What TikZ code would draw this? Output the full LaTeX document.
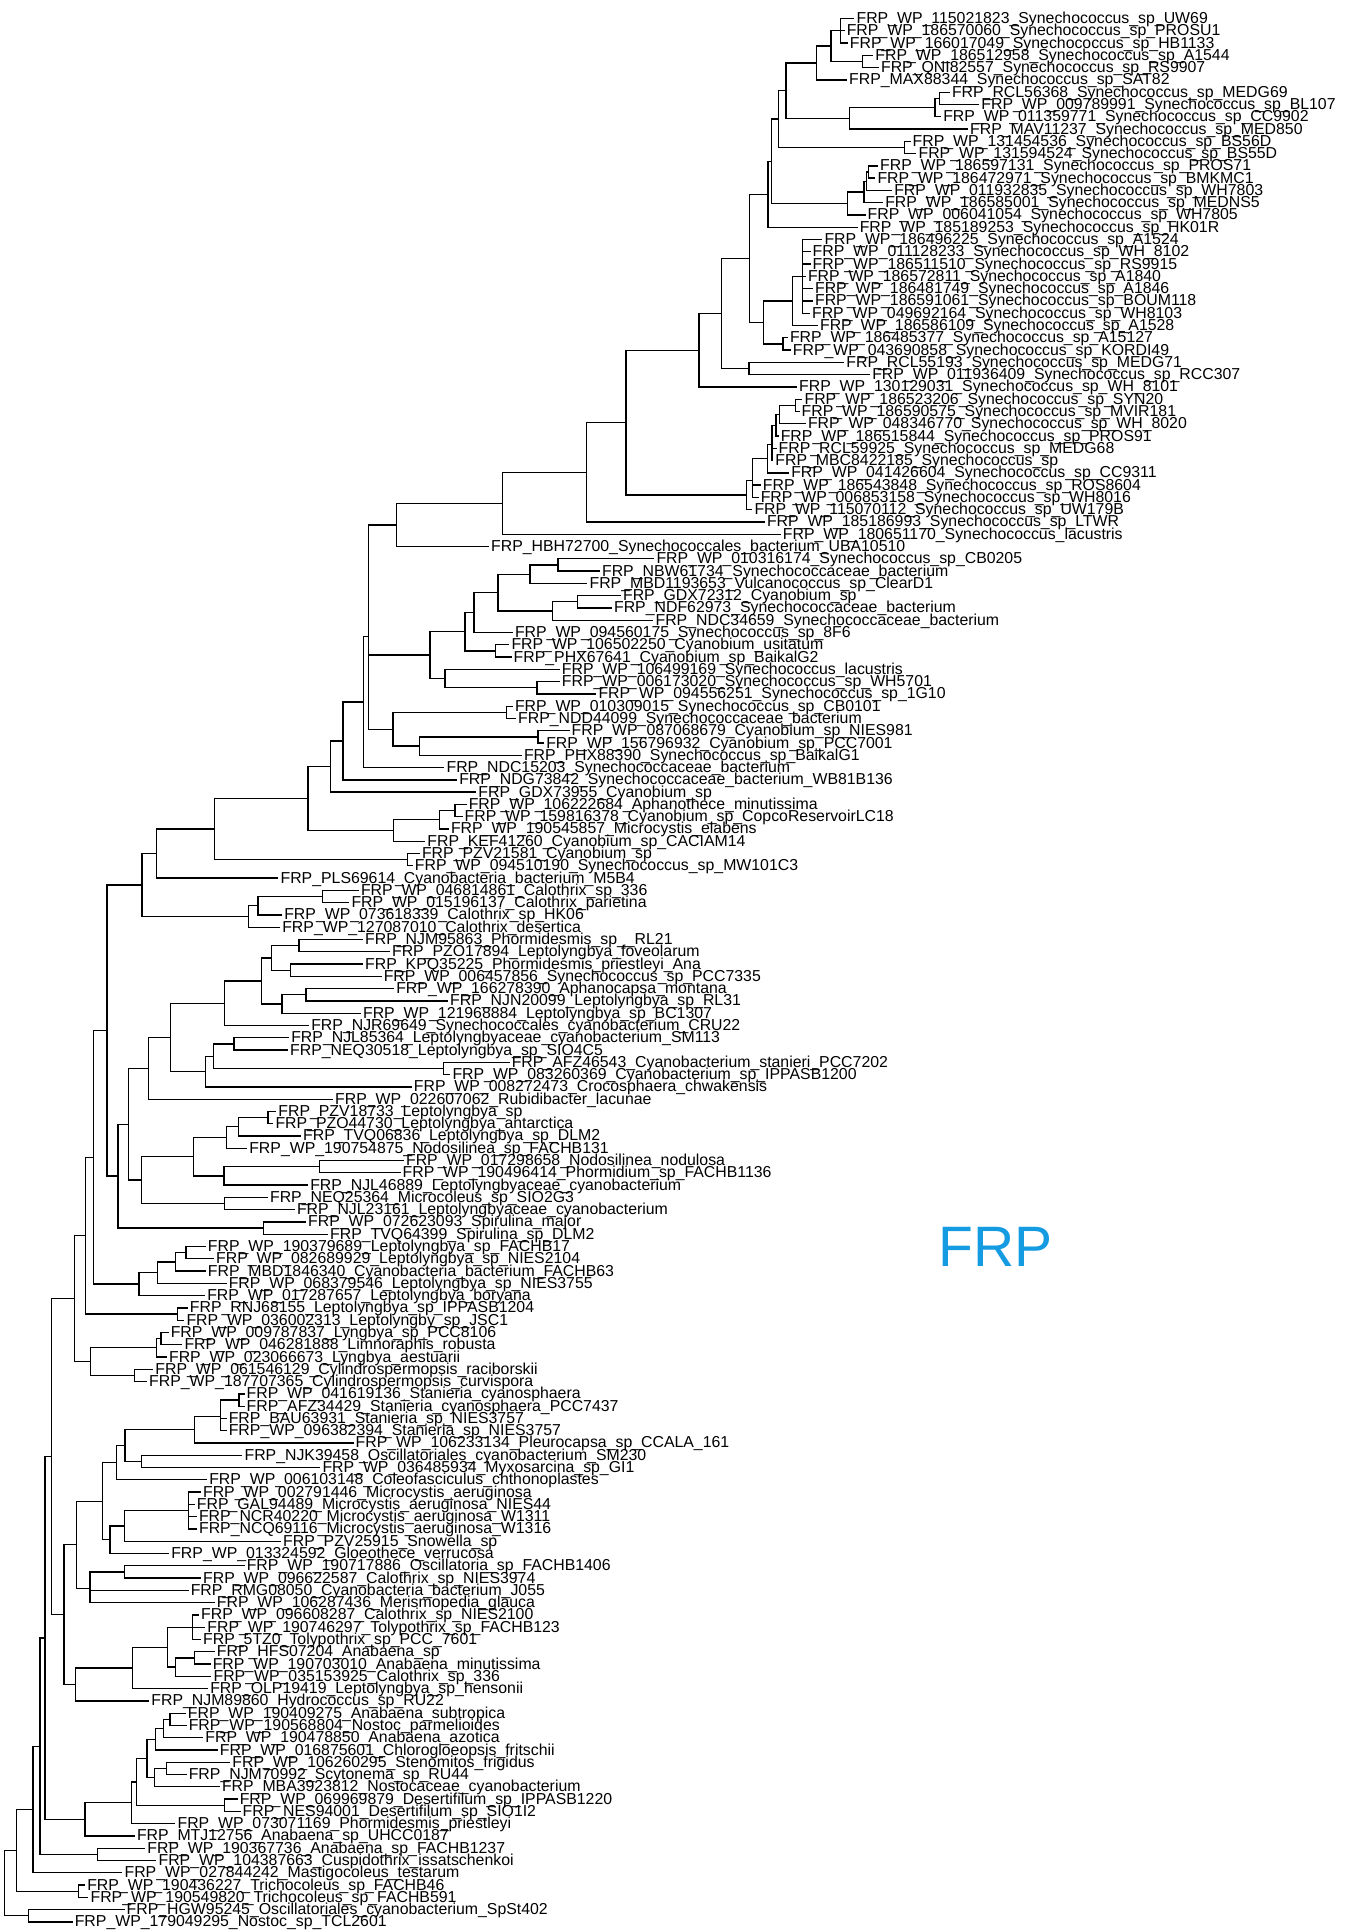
\documentclass[tikz,border=0pt]{standalone}
\usepackage{fontspec}
\setmainfont{Liberation Sans}
\definecolor{frpblue}{RGB}{20,155,225}
\newcommand\lblfont{\fontsize{15.85}{16}\selectfont}
\newdimen\inodesum
\newdimen\inodetmp
\newcount\inodecnt
\newcommand\leaf[3]{%
  \pgfmathsetmacro\yy{18.5+(#1-1)*12.28}%
  \pgfmathsetmacro\tx{#2-2}%
  \coordinate (t#1) at (\tx,\yy);
  \node[lbl] (l#1) at (#2,\yy+5) {\detokenize{#3}};
}
\newcommand\inode[3]{%
  \global\inodesum=0pt\global\inodecnt=0
  \foreach \ch in {#3}{%
    \pgfextracty{\inodetmp}{\pgfpointanchor{\ch}{center}}%
    \global\advance\inodesum by \inodetmp
    \global\advance\inodecnt by 1
  }%
  \global\divide\inodesum by \inodecnt
  \coordinate (#1) at (#2pt,\the\inodesum);
  \foreach \ch in {#3}{\draw[br] (#1) |- (\ch);}%
}
\begin{document}
\begin{tikzpicture}[x=1pt,y=-1pt,
  lbl/.style={anchor=base west,inner sep=0pt,font=\lblfont,text=black},
  br/.style={line width=1.3pt,draw=black,line join=miter}]
\fill[white] (0,0) rectangle (1355,1932);
\useasboundingbox (0,0) rectangle (1355,1932);
\leaf{1}{856.4}{FRP_WP_115021823_Synechococcus_sp_UW69}
\leaf{2}{846.6}{FRP_WP_186570060_Synechococcus_sp_PROSU1}
\leaf{3}{849.7}{FRP_WP_166017049_Synechococcus_sp_HB1133}
\leaf{4}{875.2}{FRP_WP_186512958_Synechococcus_sp_A1544}
\leaf{5}{880.9}{FRP_QNI82557_Synechococcus_sp_RS9907}
\leaf{6}{849.0}{FRP_MAX88344_Synechococcus_sp_SAT82}
\leaf{7}{951.8}{FRP_RCL56368_Synechococcus_sp_MEDG69}
\leaf{8}{981.2}{FRP_WP_009789991_Synechococcus_sp_BL107}
\leaf{9}{943.1}{FRP_WP_011359771_Synechococcus_sp_CC9902}
\leaf{10}{970.0}{FRP_MAV11237_Synechococcus_sp_MED850}
\leaf{11}{912.5}{FRP_WP_131454536_Synechococcus_sp_BS56D}
\leaf{12}{918.4}{FRP_WP_131594524_Synechococcus_sp_BS55D}
\leaf{13}{880.0}{FRP_WP_186597131_Synechococcus_sp_PROS71}
\leaf{14}{877.3}{FRP_WP_186472971_Synechococcus_sp_BMKMC1}
\leaf{15}{894.1}{FRP_WP_011932835_Synechococcus_sp_WH7803}
\leaf{16}{885.1}{FRP_WP_186585001_Synechococcus_sp_MEDNS5}
\leaf{17}{867.5}{FRP_WP_006041054_Synechococcus_sp_WH7805}
\leaf{18}{859.6}{FRP_WP_185189253_Synechococcus_sp_HK01R}
\leaf{19}{824.3}{FRP_WP_186496225_Synechococcus_sp_A1524}
\leaf{20}{812.5}{FRP_WP_011128233_Synechococcus_sp_WH_8102}
\leaf{21}{812.5}{FRP_WP_186511510_Synechococcus_sp_RS9915}
\leaf{22}{807.8}{FRP_WP_186572811_Synechococcus_sp_A1840}
\leaf{23}{814.9}{FRP_WP_186481749_Synechococcus_sp_A1846}
\leaf{24}{814.9}{FRP_WP_186591061_Synechococcus_sp_BOUM118}
\leaf{25}{811.9}{FRP_WP_049692164_Synechococcus_sp_WH8103}
\leaf{26}{819.9}{FRP_WP_186586109_Synechococcus_sp_A1528}
\leaf{27}{789.8}{FRP_WP_186485377_Synechococcus_sp_A15127}
\leaf{28}{792.7}{FRP_WP_043690858_Synechococcus_sp_KORDI49}
\leaf{29}{846.2}{FRP_RCL55193_Synechococcus_sp_MEDG71}
\leaf{30}{872.1}{FRP_WP_011936409_Synechococcus_sp_RCC307}
\leaf{31}{799.0}{FRP_WP_130129031_Synechococcus_sp_WH_8101}
\leaf{32}{804.4}{FRP_WP_186523206_Synechococcus_sp_SYN20}
\leaf{33}{801.5}{FRP_WP_186590575_Synechococcus_sp_MVIR181}
\leaf{34}{807.8}{FRP_WP_048346770_Synechococcus_sp_WH_8020}
\leaf{35}{780.6}{FRP_WP_186515844_Synechococcus_sp_PROS91}
\leaf{36}{778.5}{FRP_RCL59925_Synechococcus_sp_MEDG68}
\leaf{37}{775.2}{FRP_MBC8422185_Synechococcus_sp}
\leaf{38}{791.1}{FRP_WP_041426604_Synechococcus_sp_CC9311}
\leaf{39}{762.7}{FRP_WP_186543848_Synechococcus_sp_ROS8604}
\leaf{40}{760.6}{FRP_WP_006853158_Synechococcus_sp_WH8016}
\leaf{41}{754.3}{FRP_WP_115070112_Synechococcus_sp_UW179B}
\leaf{42}{766.8}{FRP_WP_185186993_Synechococcus_sp_LTWR}
\leaf{43}{782.7}{FRP_WP_180651170_Synechococcus_lacustris}
\leaf{44}{491.0}{FRP_HBH72700_Synechococcales_bacterium_UBA10510}
\leaf{45}{656.3}{FRP_WP_010316174_Synechococcus_sp_CB0205}
\leaf{46}{601.9}{FRP_NBW61734_Synechococcaceae_bacterium}
\leaf{47}{589.4}{FRP_MBD1193653_Vulcanococcus_sp_ClearD1}
\leaf{48}{622.9}{FRP_GDX72312_Cyanobium_sp}
\leaf{49}{613.9}{FRP_NDF62973_Synechococcaceae_bacterium}
\leaf{50}{655.4}{FRP_NDC34659_Synechococcaceae_bacterium}
\leaf{51}{514.8}{FRP_WP_094560175_Synechococcus_sp_8F6}
\leaf{52}{511.3}{FRP_WP_106502250_Cyanobium_usitatum}
\leaf{53}{513.5}{FRP_PHX67641_Cyanobium_sp_BaikalG2}
\leaf{54}{561.7}{FRP_WP_106499169_Synechococcus_lacustris}
\leaf{55}{561.7}{FRP_WP_006173020_Synechococcus_sp_WH5701}
\leaf{56}{598.3}{FRP_WP_094556251_Synechococcus_sp_1G10}
\leaf{57}{514.8}{FRP_WP_010309015_Synechococcus_sp_CB0101}
\leaf{58}{518.0}{FRP_NDD44099_Synechococcaceae_bacterium}
\leaf{59}{571.5}{FRP_WP_087068679_Cyanobium_sp_NIES981}
\leaf{60}{546.1}{FRP_WP_156796932_Cyanobium_sp_PCC7001}
\leaf{61}{523.8}{FRP_PHX88390_Synechococcus_sp_BaikalG1}
\leaf{62}{446.4}{FRP_NDC15203_Synechococcaceae_bacterium}
\leaf{63}{459.1}{FRP_NDG73842_Synechococcaceae_bacterium_WB81B136}
\leaf{64}{478.2}{FRP_GDX73955_Cyanobium_sp}
\leaf{65}{468.6}{FRP_WP_106222684_Aphanothece_minutissima}
\leaf{66}{464.5}{FRP_WP_159816378_Cyanobium_sp_CopcoReservoirLC18}
\leaf{67}{450.8}{FRP_WP_190545857_Microcystis_elabens}
\leaf{68}{427.2}{FRP_KEF41260_Cyanobium_sp_CACIAM14}
\leaf{69}{421.8}{FRP_PZV21581_Cyanobium_sp}
\leaf{70}{414.7}{FRP_WP_094510190_Synechococcus_sp_MW101C3}
\leaf{71}{280.4}{FRP_PLS69614_Cyanobacteria_bacterium_M5B4}
\leaf{72}{360.8}{FRP_WP_046814861_Calothrix_sp_336}
\leaf{73}{351.3}{FRP_WP_015196137_Calothrix_parietina}
\leaf{74}{284.1}{FRP_WP_073618339_Calothrix_sp_HK06}
\leaf{75}{282.1}{FRP_WP_127087010_Calothrix_desertica}
\leaf{76}{365.0}{FRP_NJM95863_Phormidesmis_sp__RL21}
\leaf{77}{391.9}{FRP_PZO17894_Leptolyngbya_foveolarum}
\leaf{78}{365.0}{FRP_KPQ35225_Phormidesmis_priestleyi_Ana}
\leaf{79}{383.6}{FRP_WP_006457856_Synechococcus_sp_PCC7335}
\leaf{80}{396.1}{FRP_WP_166278390_Aphanocapsa_montana}
\leaf{81}{450.0}{FRP_NJN20099_Leptolyngbya_sp_RL31}
\leaf{82}{362.9}{FRP_WP_121968884_Leptolyngbya_sp_BC1307}
\leaf{83}{311.1}{FRP_NJR69649_Synechococcales_cyanobacterium_CRU22}
\leaf{84}{291.1}{FRP_NJL85364_Leptolyngbyaceae_cyanobacterium_SM113}
\leaf{85}{290.0}{FRP_NEQ30518_Leptolyngbya_sp_SIO4C5}
\leaf{86}{511.6}{FRP_AFZ46543_Cyanobacterium_stanieri_PCC7202}
\leaf{87}{452.3}{FRP_WP_083260369_Cyanobacterium_sp_IPPASB1200}
\leaf{88}{413.7}{FRP_WP_008272473_Crocosphaera_chwakensis}
\leaf{89}{335.0}{FRP_WP_022607062_Rubidibacter_lacunae}
\leaf{90}{278.2}{FRP_PZV18733_Leptolyngbya_sp}
\leaf{91}{275.3}{FRP_PZO44730_Leptolyngbya_antarctica}
\leaf{92}{303.0}{FRP_TVQ06836_Leptolyngbya_sp_DLM2}
\leaf{93}{249.1}{FRP_WP_190754875_Nodosilinea_sp_FACHB131}
\leaf{94}{405.9}{FRP_WP_017298658_Nodosilinea_nodulosa}
\leaf{95}{402.5}{FRP_WP_190496414_Phormidium_sp_FACHB1136}
\leaf{96}{310.1}{FRP_NJL46889_Leptolyngbyaceae_cyanobacterium}
\leaf{97}{269.9}{FRP_NEQ25364_Microcoleus_sp_SIO2G3}
\leaf{98}{296.8}{FRP_NJL23161_Leptolyngbyaceae_cyanobacterium}
\leaf{99}{308.0}{FRP_WP_072623093_Spirulina_major}
\leaf{100}{330.0}{FRP_TVQ64399_Spirulina_sp_DLM2}
\leaf{101}{207.7}{FRP_WP_190379689_Leptolyngbya_sp_FACHB17}
\leaf{102}{216.0}{FRP_WP_082689929_Leptolyngbya_sp_NIES2104}
\leaf{103}{207.7}{FRP_MBD1846340_Cyanobacteria_bacterium_FACHB63}
\leaf{104}{228.6}{FRP_WP_068379546_Leptolyngbya_sp_NIES3755}
\leaf{105}{207.1}{FRP_WP_017287657_Leptolyngbya_boryana}
\leaf{106}{189.7}{FRP_RNJ68155_Leptolyngbya_sp_IPPASB1204}
\leaf{107}{186.3}{FRP_WP_036002313_Leptolyngby_sp_JSC1}
\leaf{108}{170.6}{FRP_WP_009787837_Lyngbya_sp_PCC8106}
\leaf{109}{184.3}{FRP_WP_046281888_Limnoraphis_robusta}
\leaf{110}{168.9}{FRP_WP_023066673_Lyngbya_aestuarii}
\leaf{111}{155.2}{FRP_WP_061546129_Cylindrospermopsis_raciborskii}
\leaf{112}{149.0}{FRP_WP_187707365_Cylindrospermopsis_curvispora}
\leaf{113}{246.5}{FRP_WP_041619136_Stanieria_cyanosphaera}
\leaf{114}{246.5}{FRP_AFZ34429_Stanieria_cyanosphaera_PCC7437}
\leaf{115}{228.6}{FRP_BAU63931_Stanieria_sp_NIES3757}
\leaf{116}{228.6}{FRP_WP_096382394_Stanieria_sp_NIES3757}
\leaf{117}{355.5}{FRP_WP_106233134_Pleurocapsa_sp_CCALA_161}
\leaf{118}{244.4}{FRP_NJK39458_Oscillatoriales_cyanobacterium_SM230}
\leaf{119}{322.3}{FRP_WP_036485934_Myxosarcina_sp_GI1}
\leaf{120}{209.1}{FRP_WP_006103148_Coleofasciculus_chthonoplastes}
\leaf{121}{202.9}{FRP_WP_002791446_Microcystis_aeruginosa}
\leaf{122}{196.7}{FRP_GAL94489_Microcystis_aeruginosa_NIES44}
\leaf{123}{198.8}{FRP_NCR40220_Microcystis_aeruginosa_W1311}
\leaf{124}{198.9}{FRP_NCQ69116_Microcystis_aeruginosa_W1316}
\leaf{125}{283.0}{FRP_PZV25915_Snowella_sp}
\leaf{126}{171.1}{FRP_WP_013324592_Gloeothece_verrucosa}
\leaf{127}{246.6}{FRP_WP_190717886_Oscillatoria_sp_FACHB1406}
\leaf{128}{203.0}{FRP_WP_096622587_Calothrix_sp_NIES3974}
\leaf{129}{190.6}{FRP_RMG08050_Cyanobacteria_bacterium_J055}
\leaf{130}{216.7}{FRP_WP_106287436_Merismopedia_glauca}
\leaf{131}{201.0}{FRP_WP_096608287_Calothrix_sp_NIES2100}
\leaf{132}{207.2}{FRP_WP_190746297_Tolypothrix_sp_FACHB123}
\leaf{133}{203.0}{FRP_5TZ0_Tolypothrix_sp_PCC_7601}
\leaf{134}{216.7}{FRP_HFS07204_Anabaena_sp}
\leaf{135}{212.6}{FRP_WP_190703010_Anabaena_minutissima}
\leaf{136}{213.4}{FRP_WP_035153925_Calothrix_sp_336}
\leaf{137}{210.1}{FRP_OLP19419_Leptolyngbya_sp_hensonii}
\leaf{138}{151.2}{FRP_NJM89860_Hydrococcus_sp_RU22}
\leaf{139}{187.7}{FRP_WP_190409275_Anabaena_subtropica}
\leaf{140}{188.6}{FRP_WP_190568804_Nostoc_parmelioides}
\leaf{141}{205.2}{FRP_WP_190478850_Anabaena_azotica}
\leaf{142}{219.7}{FRP_WP_016875601_Chlorogloeopsis_fritschii}
\leaf{143}{232.2}{FRP_WP_106260295_Stenomitos_frigidus}
\leaf{144}{188.6}{FRP_NJM70992_Scytonema_sp_RU44}
\leaf{145}{221.8}{FRP_MBA3923812_Nostocaceae_cyanobacterium}
\leaf{146}{239.6}{FRP_WP_069969879_Desertifilum_sp_IPPASB1220}
\leaf{147}{242.5}{FRP_NES94001_Desertifilum_sp_SIO1I2}
\leaf{148}{177.4}{FRP_WP_073071169_Phormidesmis_priestleyi}
\leaf{149}{136.8}{FRP_MTJ12756_Anabaena_sp_UHCC0187}
\leaf{150}{147.2}{FRP_WP_190367736_Anabaena_sp_FACHB1237}
\leaf{151}{158.4}{FRP_WP_104387663_Cuspidothrix_issatschenkoi}
\leaf{152}{124.4}{FRP_WP_027844242_Mastigocoleus_testarum}
\leaf{153}{87.1}{FRP_WP_190436227_Trichocoleus_sp_FACHB46}
\leaf{154}{90.4}{FRP_WP_190549820_Trichocoleus_sp_FACHB591}
\leaf{155}{126.5}{FRP_HGW95245_Oscillatoriales_cyanobacterium_SpSt402}
\leaf{156}{74.6}{FRP_WP_179049295_Nostoc_sp_TCL2601}
% internal nodes (post-order)
\inode{A}{840.7}{t1,t2,t3}
\inode{B}{862.3}{t4,t5}
\inode{AB}{831.1}{A,B}
\inode{AB6}{816.3}{AB,t6}
\inode{N78}{939.2}{t7,t8}
\inode{N789}{934.9}{N78,t9}
\inode{C}{849.8}{N789,t10}
\inode{P1}{786.0}{AB6,C}
\inode{D}{904.7}{t11,t12}
\inode{P2}{778.4}{P1,D}
\inode{N1314}{868.2}{t13,t14}
\inode{N1315}{866.3}{N1314,t15}
\inode{N1316}{863.9}{N1315,t16}
\inode{E}{847.8}{N1316,t17}
\inode{P3}{771.4}{P2,E}
\inode{P4}{767.9}{P3,t18}
\inode{G1}{802.3}{t19,t20,t21,t22,t23,t24,t25}
\inode{G}{792.8}{G1,t26}
\inode{H}{783.0}{t27,t28}
\inode{F}{763.5}{G,H}
\inode{P5}{749.3}{P4,F}
\inode{N2930}{749.0}{t29,t30}
\inode{P6}{721.4}{P5,N2930}
\inode{P7}{698.9}{P6,t31}
\inode{N3233}{795.2}{t32,t33}
\inode{S1}{779.4}{N3233,t34}
\inode{S2}{776.0}{S1,t35}
\inode{S3}{772.0}{S2,t36,t37}
\inode{S4}{767.7}{S3,t38}
\inode{S6}{752.5}{S4,t39,t40}
\inode{S7}{746.6}{S6,t41}
\inode{P8}{626.1}{P7,S7}
\inode{P9}{586.4}{P8,t42}
\inode{P10}{502.5}{P9,t43}
\inode{P11}{396.4}{P10,t44}
\inode{N4546}{558.1}{t45,t46}
\inode{N4547}{530.0}{N4546,t47}
\inode{N4849}{577.3}{t48,t49}
\inode{N4850}{552.3}{N4849,t50}
\inode{T1}{497.9}{N4547,N4850}
\inode{c1}{474.0}{T1,t51}
\inode{N5253}{495.6}{t52,t53}
\inode{c2}{465.0}{c1,N5253}
\inode{N5556}{537.1}{t55,t56}
\inode{c3}{445.0}{t54,N5556}
\inode{c4}{430.0}{c2,c3}
\inode{N5758}{506.8}{t57,t58}
\inode{N5960}{538.0}{t59,t60}
\inode{N5961}{419.6}{N5960,t61}
\inode{c5}{392.9}{N5758,N5961}
\inode{P12}{368.3}{P11,c4,c5}
\inode{n363}{363.6}{P12,t62}
\inode{n343}{342.9}{n363,t63}
\inode{n330}{330.4}{n343,t64}
\inode{N6566}{455.0}{t65,t66}
\inode{N6567}{439.6}{N6566,t67}
\inode{U1}{393.2}{N6567,t68}
\inode{n308}{307.9}{n330,U1}
\inode{N6970}{407.4}{t69,t70}
\inode{n214}{214.3}{n308,N6970}
\inode{n156}{156.4}{n214,t71}
\inode{N7273}{322.6}{t72,t73}
\inode{N7274}{257.9}{N7273,t74}
\inode{Cal}{248.2}{N7274,t75}
\inode{n142}{142.1}{n156,Cal}
\inode{N7677}{299.0}{t76,t77}
\inode{N7879}{290.8}{t78,t79}
\inode{N7679}{271.4}{N7677,N7879}
\inode{N8081}{306.0}{t80,t81}
\inode{N8082}{282.0}{N8081,t82}
\inode{Q}{261.4}{N7679,N8082}
\inode{n224}{224.3}{Q,t83}
\inode{N8485}{233.9}{t84,t85}
\inode{N8687}{443.8}{t86,t87}
\inode{n214b}{213.6}{N8485,N8687}
\inode{n205}{205.4}{n214b,t88}
\inode{R}{170.7}{n224,n205}
\inode{n148}{148.2}{R,t89}
\inode{N9091}{267.9}{t90,t91}
\inode{N9092}{238.7}{N9091,t92}
\inode{N9093}{226.5}{N9092,t93}
\inode{N9495}{319.3}{t94,t95}
\inode{N9496}{224.1}{N9495,t96}
\inode{n193}{193.4}{N9093,N9496}
\inode{N9798}{224.3}{t97,t98}
\inode{n141}{141.8}{n193,N9798}
\inode{n128}{128.6}{n148,n141}
\inode{N99100}{263.6}{t99,t100}
\inode{n118}{117.9}{n128,N99100}
\inode{n107}{107.1}{n142,n118}
\inode{N101102}{186.0}{t101,t102}
\inode{N101103}{175.8}{N101102,t103}
\inode{N101104}{157.2}{N101103,t104}
\inode{N101105}{139.0}{N101104,t105}
\inode{n93}{93.6}{n107,N101105}
\inode{N106107}{177.3}{t106,t107}
\inode{n85b}{85.7}{n93,N106107}
\inode{N108109}{161.0}{t108,t109}
\inode{N108110}{156.5}{N108109,t110}
\inode{N111112}{134.7}{t111,t112}
\inode{n90b}{90.8}{N108110,N111112}
\inode{n74}{74.3}{n85b,n90b}
\inode{N113114}{239.1}{t113,t114}
\inode{Stan}{220.7}{N113114,t115,t116}
\inode{N113117}{194.5}{Stan,t117}
\inode{N118119}{141.2}{t118,t119}
\inode{n125}{125.0}{N113117,N118119}
\inode{n116}{116.7}{n125,t120}
\inode{Mic}{188.8}{t121,t122,t123,t124}
\inode{N125m}{124.2}{Mic,t125}
\inode{n110}{109.9}{N125m,t126}
\inode{n103}{102.7}{n116,n110}
\inode{N127128}{124.2}{t127,t128}
\inode{poly90}{89.9}{N127128,t129,t130}
\inode{n76}{76.5}{n103,poly90}
\inode{Toly}{192.7}{t131,t132,t133}
\inode{N134135}{194.7}{t134,t135}
\inode{N134136}{175.3}{N134135,t136}
\inode{N131136}{167.8}{Toly,N134136}
\inode{N131137}{132.6}{N131136,t137}
\inode{n75}{75.8}{N131137,t138}
\inode{n64}{64.1}{n76,n75}
\inode{n51}{51.5}{n74,n64}
\inode{N139140}{170.0}{t139,t140}
\inode{N139141}{163.5}{N139140,t141}
\inode{N139142}{155.3}{N139141,t142}
\inode{N143144}{166.2}{t143,t144}
\inode{N143145}{154.3}{N143144,t145}
\inode{n147}{147.0}{N139142,N143145}
\inode{N146147}{224.5}{t146,t147}
\inode{n137}{136.8}{n147,N146147}
\inode{n132}{131.8}{n137,t148}
\inode{n85}{85.0}{n132,t149}
\inode{N150151}{97.4}{t150,t151}
\inode{nQ}{45.0}{n51,n85}
\inode{nL3}{40.0}{nQ,N150151}
\inode{nL2}{33.0}{nL3,t152}
\inode{N153154}{78.8}{t153,t154}
\inode{nL1}{16.6}{nL2,N153154}
\inode{N155156}{28.2}{t155,t156}
\inode{root}{4.5}{nL1,N155156}
\node[anchor=base west,inner sep=0pt,font=\fontsize{57}{57}\selectfont,text=frpblue] (frp) at (938,1266) {FRP};
\end{tikzpicture}
\end{document}
